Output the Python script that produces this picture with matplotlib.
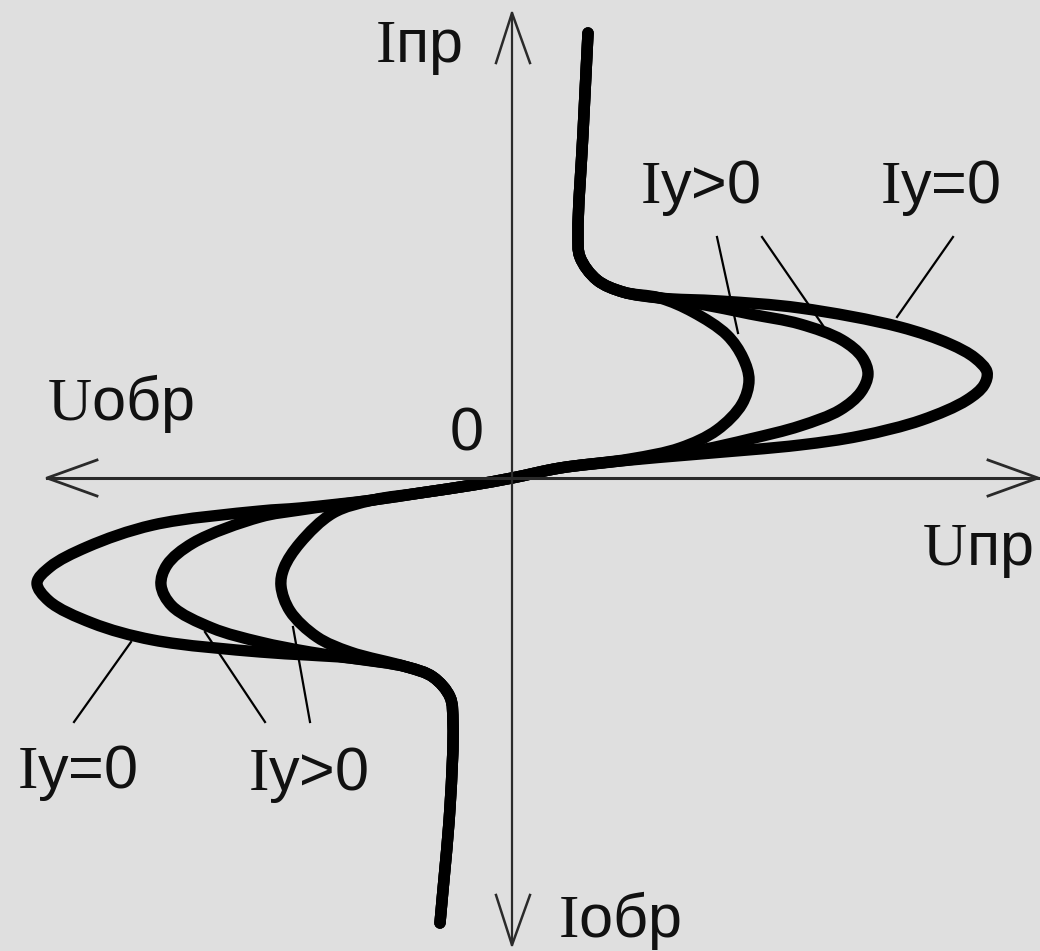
import numpy as np
import matplotlib.pyplot as plt
from matplotlib.path import Path
from matplotlib.patches import PathPatch

plt.rcParams['mathtext.fontset'] = 'custom'
plt.rcParams['mathtext.rm'] = 'Liberation Serif'
plt.rcParams['font.family'] = ['Liberation Sans', 'DejaVu Sans']

# ==================
# Data (U, I), 1 unit ~ 1 px, origin at the axes crossing
# ==================
# Iy = 0 (outer curve)
outer_u = [76, 71, 66, 68, 85, 111, 148, 208, 288, 388, 438, 463, 475, 472, 455, 410, 348, 288, 188, 108, 48, 0,
           -39, -92, -139, -212, -252, -359, -425, -462, -475, -463, -420, -359, -252, -205, -162, -105,
           -79, -62, -59, -62, -72]
outer_i = [445, 345, 245, 221, 198, 186, 180, 177, 170, 151, 134, 120, 106, 93, 78, 58, 42, 33, 24, 17, 10, 0,
           -7, -15, -22, -30, -33, -47, -69, -89, -105, -123, -145, -162, -174, -177, -180, -189,
           -199, -219, -245, -329, -445]

# Iy > 0 (middle curve)
middle_u = [76, 71, 66, 68, 85, 111, 148, 188, 238, 288, 330, 350, 356, 349, 328, 288, 238, 188, 108, 48, 0,
            -39, -92, -139, -212, -252, -319, -345, -351, -340, -300, -252, -202, -162, -105,
            -79, -62, -59, -62, -72]
middle_i = [445, 345, 245, 221, 198, 186, 180, 174, 164, 154, 138, 121, 104, 86, 68, 52, 39, 28, 17, 10, 0,
            -7, -15, -22, -32, -39, -65, -87, -107, -128, -150, -164, -174, -180, -189,
            -199, -219, -245, -329, -445]

# Iy > 0 (inner curve)
inner_u = [76, 71, 66, 68, 85, 111, 148, 181, 215, 231, 237, 230, 205, 168, 118, 48, 0,
           -39, -92, -139, -179, -212, -228, -231, -222, -195, -162, -105,
           -79, -62, -59, -62, -72]
inner_i = [445, 345, 245, 221, 198, 186, 180, 166, 143, 120, 98, 74, 48, 30, 19, 10, 0,
           -7, -15, -22, -35, -65, -90, -108, -133, -159, -174, -189,
           -199, -219, -245, -329, -445]

# leader lines: (u0, i0, u1, i1)
leaders = [(205, 241, 226, 145), (250, 241, 312, 151), (441, 241, 385, 161),
           (-438, -244, -381, -164), (-247, -244, -307, -154), (-202, -244, -219, -149)]

# labels: (u, i, text)
labels = [(-137, 416, r'$\mathrm{I}$пр'),
          (46, -459, r'$\mathrm{I}$обр'),
          (-465, 58, r'$\mathrm{U}$обр'),
          (410, -87, r'$\mathrm{U}$пр'),
          (-62, 28, '0'),
          (128, 275, r'$\mathrm{I}$y>0'),
          (368, 275, r'$\mathrm{I}$y=0'),
          (-495, -310, r'$\mathrm{I}$y=0'),
          (-264, -312, r'$\mathrm{I}$y>0')]

u_min, u_max = -465, 526
i_min, i_max = -467, 465
head_len, head_w = 50, 18


def smooth_path(us, vs, alpha=0.5):
    # centripetal Catmull-Rom through the read points, as cubic Bezier segments
    p = np.column_stack([us, vs]).astype(float)
    p = np.vstack([2 * p[0] - p[1], p, 2 * p[-1] - p[-2]])
    verts = [p[1]]
    codes = [Path.MOVETO]
    for k in range(1, len(p) - 2):
        p0, p1, p2, p3 = p[k - 1], p[k], p[k + 1], p[k + 2]
        d1 = np.linalg.norm(p1 - p0) ** alpha
        d2 = np.linalg.norm(p2 - p1) ** alpha
        d3 = np.linalg.norm(p3 - p2) ** alpha
        b1 = (d1 ** 2 * p2 - d2 ** 2 * p0 + (2 * d1 ** 2 + 3 * d1 * d2 + d2 ** 2) * p1) / (3 * d1 * (d1 + d2))
        b2 = (d3 ** 2 * p1 - d2 ** 2 * p3 + (2 * d3 ** 2 + 3 * d3 * d2 + d2 ** 2) * p2) / (3 * d3 * (d3 + d2))
        verts += [b1, b2, p2]
        codes += [Path.CURVE4] * 3
    return Path(verts, codes)


# ==================
# Plot
# ==================
bg = '#dfdfdf'
fig = plt.figure(figsize=(10.4, 9.51), dpi=100, facecolor=bg)
ax = fig.add_axes([0, 0, 1, 1])
ax.set_facecolor(bg)
ax.set_xlim(-512, 528)
ax.set_ylim(-473, 478)
ax.axis('off')

axis_col = '#2a2a2a'
ax.plot([u_min, u_max], [0, 0], color=axis_col, lw=2.2)
ax.plot([0, 0], [i_min, i_max], color=axis_col, lw=1.6)
ax.plot([u_min + head_len, u_min, u_min + head_len], [head_w, 0, -head_w], color=axis_col, lw=2)
ax.plot([u_max - head_len, u_max, u_max - head_len], [head_w, 0, -head_w], color=axis_col, lw=2)
ax.plot([-head_w + 2, 0, head_w], [i_max - head_len, i_max, i_max - head_len], color=axis_col, lw=1.8)
ax.plot([-head_w + 2, 0, head_w], [i_min + head_len, i_min, i_min + head_len], color=axis_col, lw=1.8)

for us, vs in [(outer_u, outer_i), (middle_u, middle_i), (inner_u, inner_i)]:
    ax.add_patch(PathPatch(smooth_path(us, vs), fill=False, edgecolor='black', lw=8.2,
                           capstyle='round', joinstyle='round'))

for u0, i0, u1, i1 in leaders:
    ax.plot([u0, u1], [i0, i1], color='black', lw=1.6)

for u, i, s in labels:
    ax.text(u, i, s, fontsize=44, color='#111111', ha='left', va='baseline')

plt.savefig('out.png', dpi=100, facecolor=bg)
plt.close()
